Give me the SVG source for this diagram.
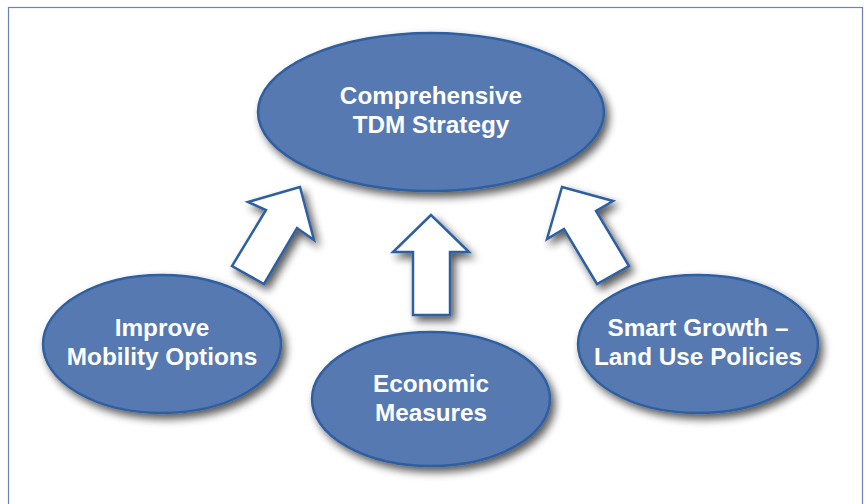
<svg xmlns="http://www.w3.org/2000/svg" width="866" height="504" viewBox="0 0 866 504">
<defs>
<filter id="sh" x="-20%" y="-20%" width="150%" height="150%">
<feGaussianBlur in="SourceAlpha" stdDeviation="4"/>
<feOffset dx="4" dy="5" result="b"/>
<feComponentTransfer><feFuncA type="linear" slope="0.65"/></feComponentTransfer>
<feMerge><feMergeNode/><feMergeNode in="SourceGraphic"/></feMerge>
</filter>
</defs>
<style>
.node{fill:#5679B1;stroke:#2F5FA0;stroke-width:2.5}
.arr{fill:#ffffff;stroke:#2F5FA0;stroke-width:2.5;stroke-linejoin:miter}
.t{font-family:"Liberation Sans",Arial,sans-serif;font-weight:bold;font-size:24.3px;fill:#ffffff;text-anchor:middle}
</style>
<rect x="0" y="0" width="866" height="504" fill="#ffffff"/>
<rect x="8.5" y="7.5" width="854" height="520" fill="#ffffff" stroke="#6F7FBA" stroke-width="1.2"/>
<g id="connectors">
<polygon class="arr" filter="url(#sh)" points="300,187 248,202 266,210 232,266 264,284 297,228 314,240"/>
<polygon class="arr" filter="url(#sh)" points="431,215 393,252 413,252 413,315 450,315 450,252 469,252"/>
<polygon class="arr" filter="url(#sh)" points="562,187 613,201 596,211 629,266 597,284 564,229 547,239"/>
</g>
<g id="top">
<ellipse class="node" filter="url(#sh)" cx="431" cy="112" rx="173" ry="79"/>
<text class="t" x="431" y="104">Comprehensive</text>
<text class="t" x="431" y="133">TDM Strategy</text>
</g>
<g id="left">
<ellipse class="node" filter="url(#sh)" cx="162" cy="344" rx="119" ry="69"/>
<text class="t" x="162" y="336">Improve</text>
<text class="t" x="162" y="365">Mobility Options</text>
</g>
<g id="center">
<ellipse class="node" filter="url(#sh)" cx="431" cy="399" rx="119" ry="67"/>
<text class="t" x="431" y="392">Economic</text>
<text class="t" x="431" y="421">Measures</text>
</g>
<g id="right">
<ellipse class="node" filter="url(#sh)" cx="698" cy="344" rx="120" ry="69"/>
<text class="t" x="698" y="336">Smart Growth –</text>
<text class="t" x="698" y="365">Land Use Policies</text>
</g>
</svg>
